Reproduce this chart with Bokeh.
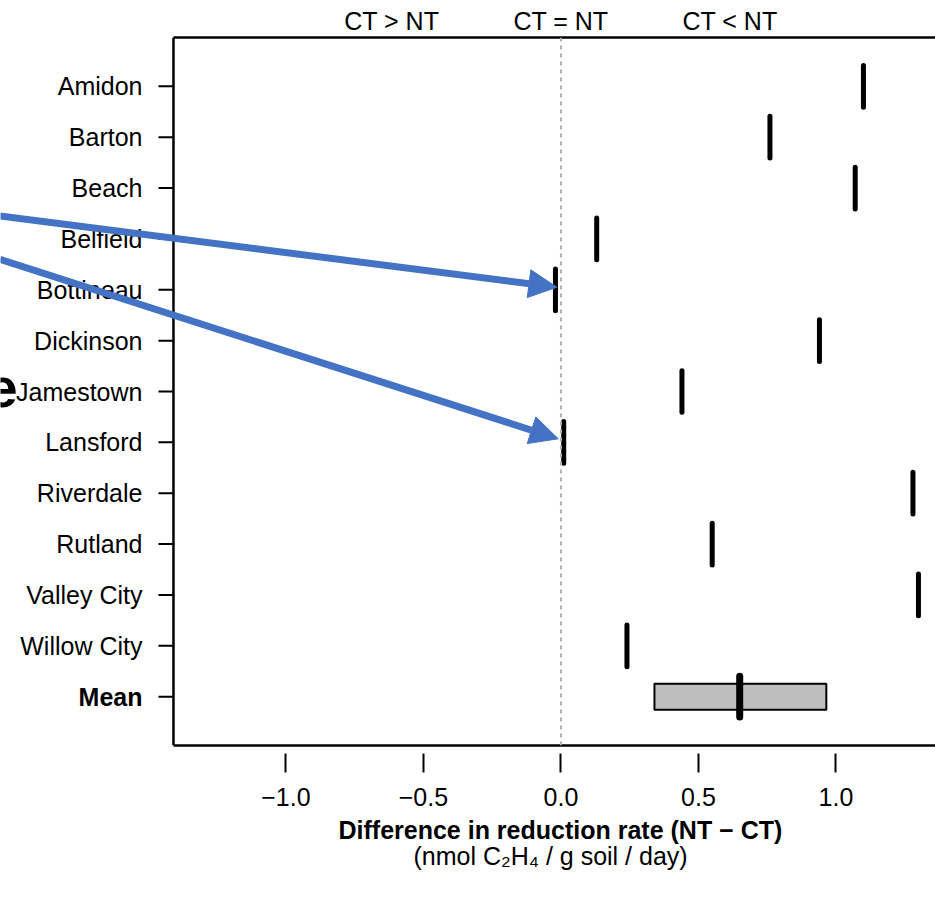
from bokeh.plotting import figure
from bokeh.models import (Range1d, FixedTicker, LinearAxis, Label, Arrow,
                          NormalHead, Span, ColumnDataSource, Title)
from bokeh.core.properties import value
from bokeh.embed import file_html
from bokeh.resources import INLINE

# ---- data ----
sites = ["Amidon", "Barton", "Beach", "Belfield", "Bottineau", "Dickinson",
         "Jamestown", "Lansford", "Riverdale", "Rutland", "Valley City", "Willow City"]
diff = [1.10, 0.76, 1.07, 0.13, -0.02, 0.94, 0.44, 0.01, 1.28, 0.55, 1.30, 0.24]
mean_name = "Mean"
mean_value = 0.65
mean_low = 0.34
mean_high = 0.965
x_ticks = [-1.0, -0.5, 0.0, 0.5, 1.0]
x_tick_labels = ["\u22121.0", "\u22120.5", "0.0", "0.5", "1.0"]
top_ticks = [-0.615, 0.0, 0.615]
top_labels = ["CT > NT", "CT = NT", "CT < NT"]
x_title = "Difference in reduction rate (NT \u2212 CT)"
x_units = "(nmol C\u2082H\u2084 / g soil / day)"
# slide annotations (arrows pointing at Bottineau and Lansford)
arrow_x_start = [-2.04, -2.04]
arrow_y_start = [3.55, 4.40]
arrow_x_end = [-0.015, -0.010]
arrow_y_end = [4.95, 7.93]

FONT = "Liberation Sans"
rows = list(range(1, len(sites) + 1))
mean_row = len(sites) + 1
half = 0.41

# plotting box (data limits of the framed panel)
box_left = -1.409
view_left = -2.038
view_right = 1.362
px = 1.0 / 275.0  # data units per screen pixel along x

p = figure(width=935, height=897, title=None,
           x_range=Range1d(view_left, view_right), y_range=Range1d(13.96, 0.04),
           y_axis_location=None,
           min_border_left=0, min_border_right=0, min_border_top=37,
           min_border_bottom=152, output_backend="svg", toolbar_location=None)
p.outline_line_color = None
p.grid.visible = False
p.background_fill_color = "white"

# zero reference line
p.add_layout(Span(location=0, dimension="height", line_color="#b3b3b3",
                  line_dash="4 4", line_width=2))
# left frame line
p.add_layout(Span(location=box_left, dimension="height", line_color="black",
                  line_width=2.5))

# site marks
src = ColumnDataSource(dict(x=diff, y0=[r - half for r in rows], y1=[r + half for r in rows]))
p.segment(x0="x", y0="y0", x1="x", y1="y1", source=src, line_color="black",
          line_width=5, line_cap="round")

# mean box and mark
p.quad(left=[mean_low], right=[mean_high], bottom=[mean_row - 0.255], top=[mean_row + 0.255],
       fill_color="#bebebe", line_color="black", line_width=2)
p.segment(x0=[mean_value], y0=[mean_row - 0.4], x1=[mean_value], y1=[mean_row + 0.4],
          line_color="black", line_width=7, line_cap="round")

# left (site) axis: ticks and labels
all_rows = rows + [mean_row]
p.segment(x0=[box_left - 15 * px] * len(all_rows), x1=[box_left] * len(all_rows),
          y0=all_rows, y1=all_rows, line_color="black", line_width=2)
p.text(x=[box_left - 31 * px] * len(rows), y=rows, text=sites, text_align="right",
       text_baseline="middle", text_font=value(FONT), text_font_size="25px",
       text_color="black")
p.text(x=[box_left - 31 * px], y=[mean_row], text=[mean_name], text_align="right",
       text_baseline="middle", text_font=value(FONT), text_font_size="25px",
       text_font_style="bold", text_color="black")

# bottom axis
xa = p.xaxis[0]
xa.ticker = FixedTicker(ticks=x_ticks)
xa.bounds = (box_left, view_right + 0.1)
xa.major_label_overrides = {t: l for t, l in zip(x_ticks, x_tick_labels)}
xa.minor_tick_line_color = None
xa.major_tick_in = -8
xa.major_tick_out = 27
xa.major_tick_line_width = 2
xa.axis_line_width = 2.5
xa.major_label_standoff = 15
xa.major_label_text_font = FONT
xa.major_label_text_font_size = "25px"
xa.major_label_text_color = "black"

# empty spacer axis (no ticks, no line, no text) to push the titles down
spacer = LinearAxis(ticker=FixedTicker(ticks=[]), axis_line_color=None,
                    major_tick_line_color="white", minor_tick_line_color=None,
                    major_tick_in=0, major_tick_out=27, major_label_standoff=0)
p.add_layout(spacer, "below")

# axis titles, placed so that they are centred on the plotting box
p.add_layout(Title(text=x_title, align="left", offset=338, standoff=11,
                   vertical_align="bottom", text_font=FONT, text_font_size="25px",
                   text_font_style="bold", text_color="black"), "below")
p.add_layout(Title(text=x_units, align="left", offset=413, standoff=-20,
                   vertical_align="bottom", text_font=FONT, text_font_size="25px",
                   text_font_style="normal", text_color="black"), "below")

# top axis (frame top line with region labels)
ta = LinearAxis(ticker=FixedTicker(ticks=top_ticks), bounds=(box_left, view_right + 0.1),
                major_label_overrides={t: l for t, l in zip(top_ticks, top_labels)},
                major_tick_out=0, major_tick_in=0, minor_tick_line_color=None,
                axis_line_width=2.5, major_label_standoff=3,
                major_label_text_font=FONT, major_label_text_font_size="25px",
                major_label_text_color="black")
p.add_layout(ta, "above")

# slide annotations
p.add_layout(Label(x=-1.976, y=6.94, text="e", text_align="right", text_baseline="alphabetic",
                   text_font=FONT, text_font_size="56px", text_font_style="bold",
                   text_color="black"))
for xs, ys, xe, ye in zip(arrow_x_start, arrow_y_start, arrow_x_end, arrow_y_end):
    p.add_layout(Arrow(x_start=xs, y_start=ys, x_end=xe, y_end=ye,
                       line_color="#4472C4", line_width=7,
                       end=NormalHead(size=28, fill_color="#4472C4", line_color="#4472C4")))

open("out.html", "w").write(file_html(p, INLINE))
